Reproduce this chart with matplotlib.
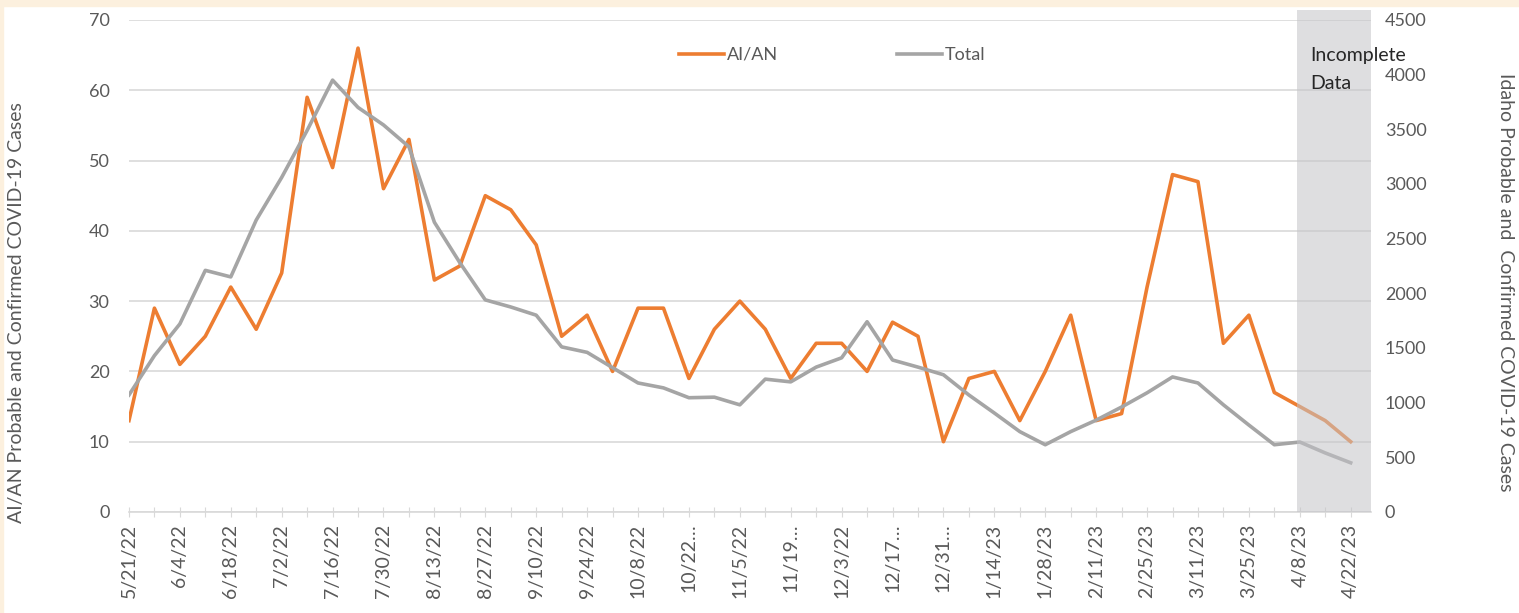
import matplotlib.pyplot as plt
from matplotlib.patches import Rectangle

plt.rcParams['font.family'] = ['Lato', 'DejaVu Sans']

week_labels = ['5/21/22', '', '6/4/22', '', '6/18/22', '', '7/2/22', '', '7/16/22', '',
               '7/30/22', '', '8/13/22', '', '8/27/22', '', '9/10/22', '', '9/24/22', '',
               '10/8/22', '', '10/22\u2026', '', '11/5/22', '', '11/19\u2026', '', '12/3/22', '',
               '12/17\u2026', '', '12/31\u2026', '', '1/14/23', '', '1/28/23', '', '2/11/23', '',
               '2/25/23', '', '3/11/23', '', '3/25/23', '', '4/8/23', '', '4/22/23']

aian = [13, 29, 21, 25, 32, 26, 34, 59, 49, 66, 46, 53, 33, 35, 45, 43, 38, 25, 28, 20,
        29, 29, 19, 26, 30, 26, 19, 24, 24, 20, 27, 25, 10, 19, 20, 13, 20, 28, 13, 14,
        32, 48, 47, 24, 28, 17, 15, 13, 10]

total = [1070, 1430, 1720, 2210, 2150, 2670, 3060, 3490, 3950, 3700, 3540, 3340, 2650, 2280, 1940, 1875, 1800, 1510, 1460, 1320,
         1180, 1135, 1045, 1050, 980, 1215, 1190, 1325, 1410, 1740, 1390, 1325, 1255, 1070, 905, 735, 615, 735, 840, 960,
         1090, 1235, 1180, 980, 795, 615, 640, 540, 450]

x = list(range(len(aian)))
orange = '#ED7D31'
gray = '#A5A5A5'
txt = '#595959'

fig = plt.figure(figsize=(15.19, 6.13), dpi=100)
fig.patch.set_facecolor('white')
# beige frame at top and left
fig.patches.append(Rectangle((0, 0.99), 1, 0.01, transform=fig.transFigure, color='#FCF0DE', zorder=0))
fig.patches.append(Rectangle((0, 0), 0.002, 1, transform=fig.transFigure, color='#FCF0DE', zorder=0))

ax = fig.add_axes([0.0849, 0.1648, 0.8177, 0.8026])
ax.set_xlim(0, 48.8)
ax.set_ylim(0, 70)
ax.set_yticks(range(0, 71, 10))
ax.yaxis.grid(True, color='#D9D9D9', linewidth=1.2)
ax.set_axisbelow(True)
for s in ['top', 'right', 'left']:
    ax.spines[s].set_visible(False)
ax.spines['bottom'].set_color('#D9D9D9')
ax.spines['bottom'].set_linewidth(1.2)
ax.tick_params(axis='y', length=0, pad=14, labelsize=13, labelcolor=txt)
ax.set_xticks(x)
ax.set_xticklabels(week_labels, rotation=90)
ax.tick_params(axis='x', direction='inout', length=7, color='#D9D9D9', pad=5, labelsize=14, labelcolor=txt)

l1, = ax.plot(x, aian, color=orange, linewidth=2.6, zorder=3, label='AI/AN')

ax2 = ax.twinx()
ax2.set_ylim(0, 4500)
ax2.set_yticks(range(0, 4501, 500))
for s in ['top', 'right', 'left', 'bottom']:
    ax2.spines[s].set_visible(False)
ax2.tick_params(axis='y', length=0, pad=10, labelsize=13, labelcolor=txt)
l2, = ax2.plot(x, total, color=gray, linewidth=2.6, zorder=3, label='Total')

# translucent "incomplete data" band over the last weeks
ax2.axvspan(45.9, 48.8, ymin=0, ymax=1.02, clip_on=False, facecolor='#C4C4C8', alpha=0.55,
            edgecolor='none', zorder=5)
ax2.text(46.4, 65.0 * 4500 / 70, 'Incomplete', fontsize=14, color='#262626', va='center', zorder=6)
ax2.text(46.4, 60.9 * 4500 / 70, 'Data', fontsize=14, color='#262626', va='center', zorder=6)

ax2.legend([l1, l2], ['AI/AN', 'Total'], loc='center', bbox_to_anchor=(0.566, 0.929), ncol=2,
           frameon=False, handlelength=2.5, handletextpad=0.15, columnspacing=6.6,
           fontsize=13, labelcolor=txt)

fig.text(0.011, 0.49, 'AI/AN Probable and Confirmed COVID-19 Cases', rotation=90,
         ha='center', va='center', fontsize=14, color=txt)
fig.text(0.991, 0.54, 'Idaho Probable and  Confirmed COVID-19 Cases', rotation=270,
         ha='center', va='center', fontsize=14, color=txt)

fig.savefig('out.png', dpi=100)
